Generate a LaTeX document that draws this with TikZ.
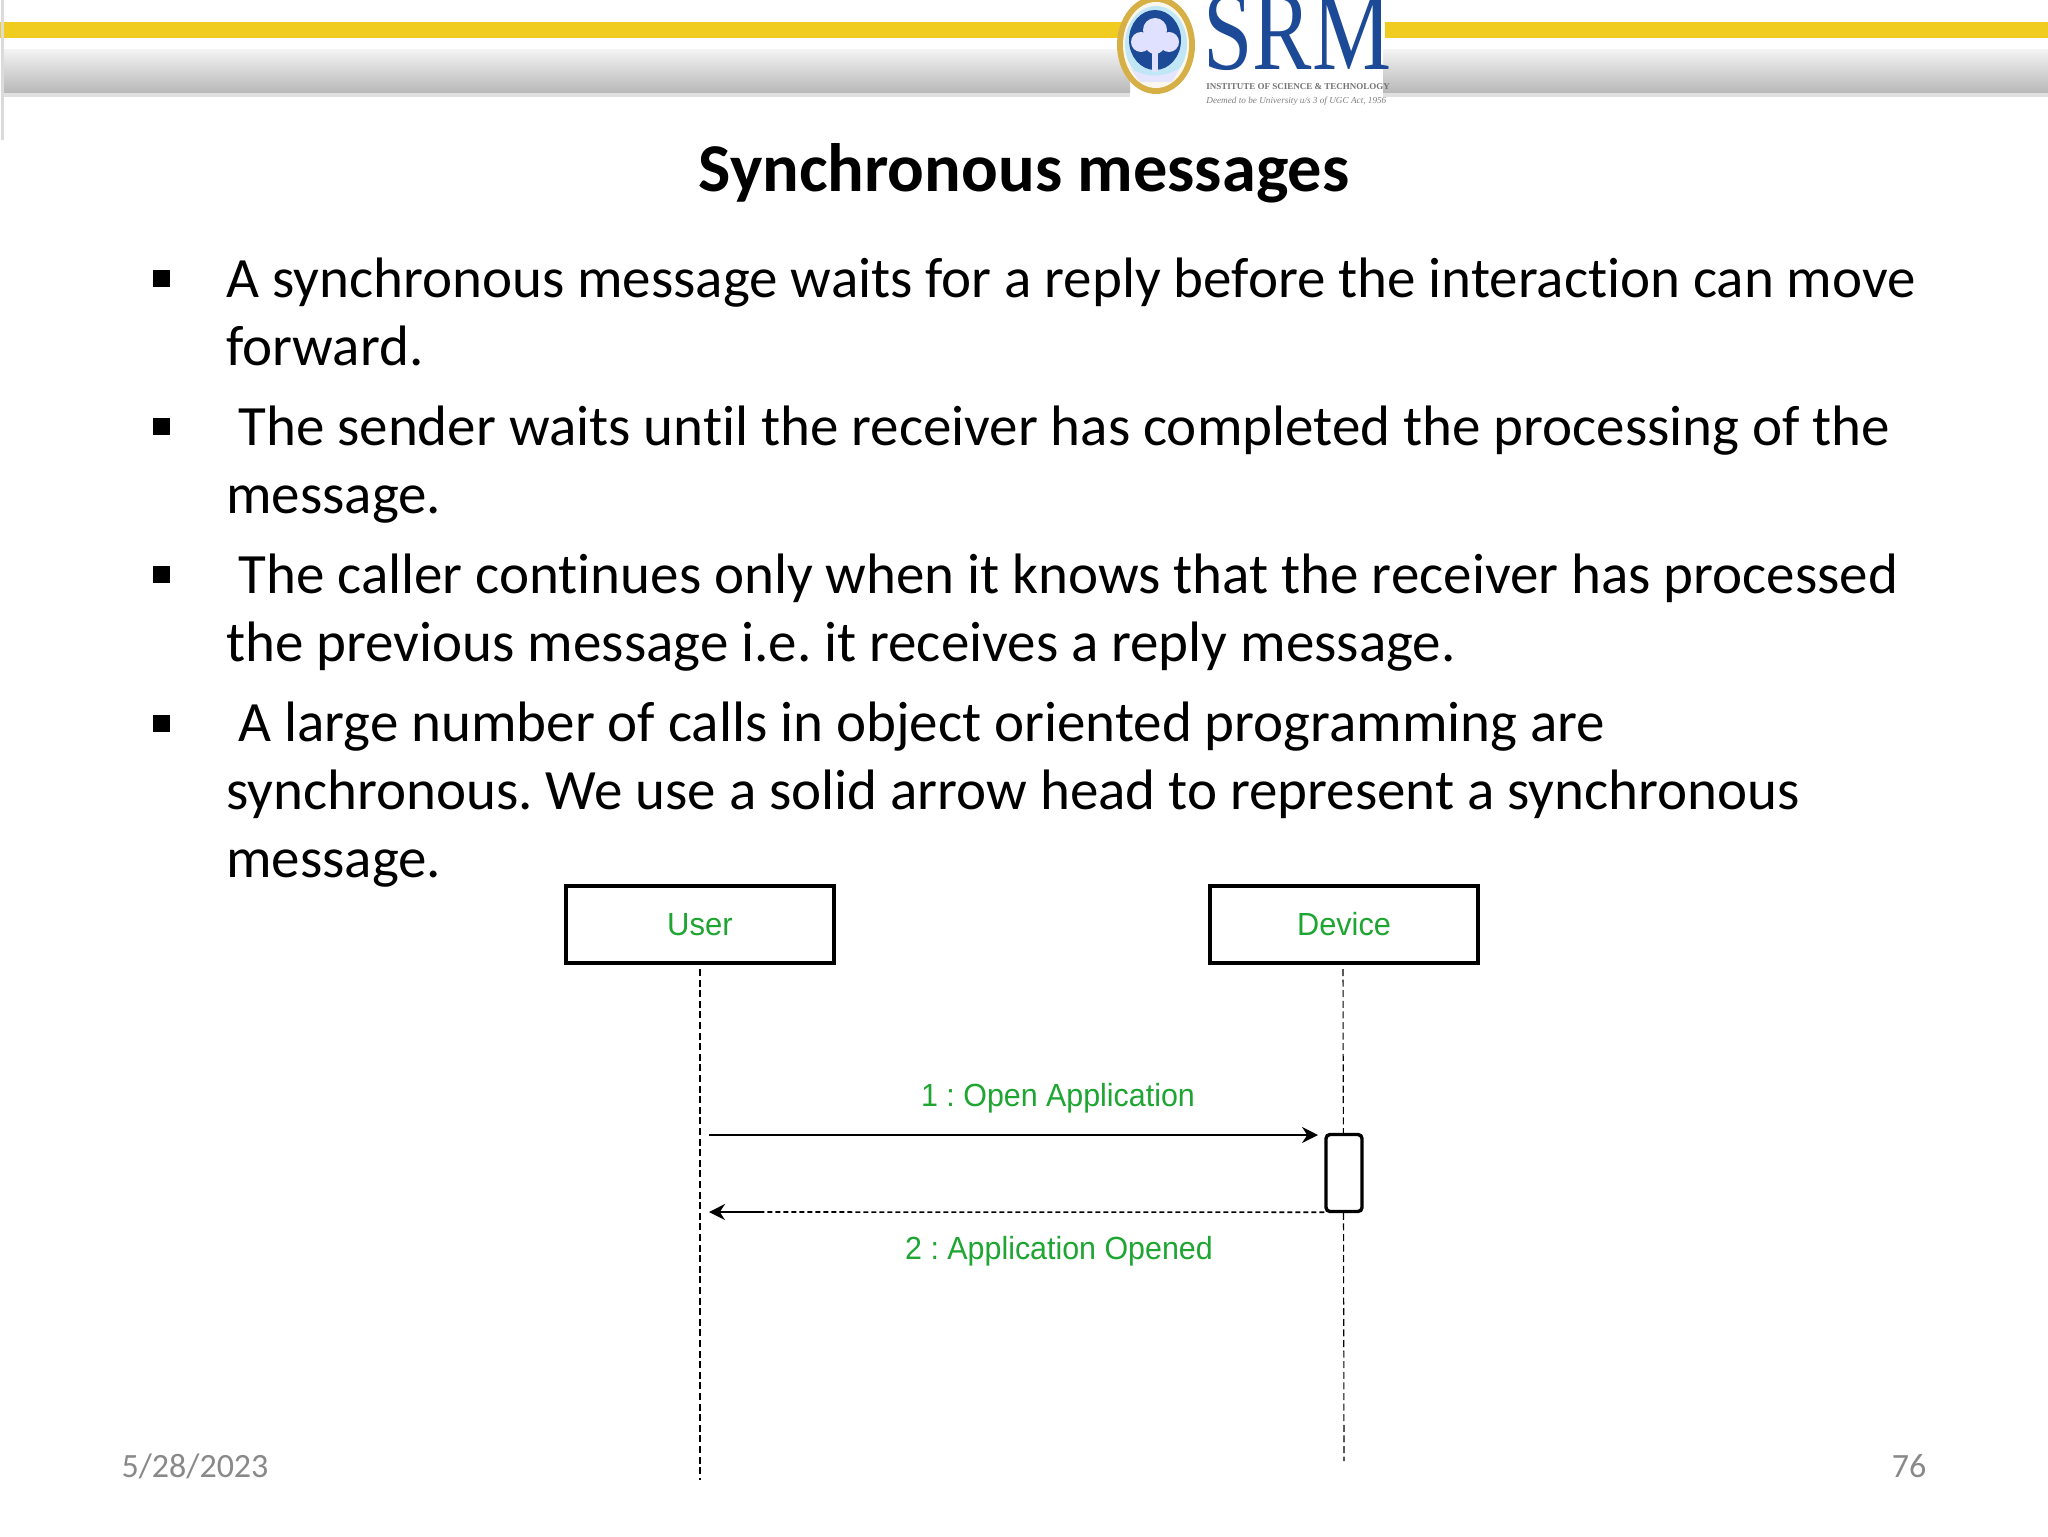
\documentclass[tikz,border=0pt]{standalone}
\usepackage{fontspec}
\usepackage{graphicx}
\setmainfont{Carlito}[Ligatures=CommonOff]
\newfontfamily\arialf{Liberation Sans}
\newfontfamily\timesf{Liberation Serif}
\usetikzlibrary{arrows.meta}
\frenchspacing
\definecolor{srmblue}{RGB}{28,74,150}
\definecolor{srmgold}{RGB}{214,176,70}
\definecolor{band}{RGB}{240,203,32}
\definecolor{umlgreen}{RGB}{30,165,50}
\definecolor{foot}{RGB}{137,137,137}
\tikzset{
  bodyline/.style={anchor=base west,inner sep=0pt,font=\fontsize{28.5}{34}\selectfont,text=black},
  bulletmark/.style={fill=black,draw=none,minimum size=8.5pt,inner sep=0pt},
  actor/.style={draw=black,line width=1.6pt,fill=white,minimum width=134pt,minimum height=38.5pt,inner sep=0pt,font=\arialf\fontsize{16}{18}\selectfont,text=umlgreen},
  msglabel/.style={inner sep=0pt,font=\arialf\fontsize{16}{18}\selectfont,text=umlgreen},
  lifeline/.style={draw=black,line width=0.55pt,dash pattern=on 3.5pt off 1.8pt},
  footer/.style={inner sep=0pt,anchor=base,font=\fontsize{17}{20}\selectfont,text=foot},
  msgarrow/.style={draw=black,line width=0.9pt,-{Stealth[length=8pt,width=8pt]}}
}
\begin{document}
\begin{tikzpicture}[x=0.5pt,y=-0.5pt]
\clip (0,0) rectangle (2048,1536);
\useasboundingbox (0,0) rectangle (2048,1536);
\fill[white] (0,0) rectangle (2048,1536);
% header band
\fill[band] (0,22) rectangle (1125,38);
\fill[band] (1385,22) rectangle (2048,38);
\shade[top color=white!90!gray,bottom color=black!28] (3,50) rectangle (1130,93);
\shade[top color=white!90!gray,bottom color=black!28] (1383,50) rectangle (2048,93);
\fill[black!12] (3,93) rectangle (1130,97);
\fill[black!12] (1383,93) rectangle (2048,97);
\fill[black!14] (1,0) rectangle (4,140);
% logo
\fill[srmgold] (1156,45) ellipse (39 and 49);
\fill[white!90!srmgold] (1156,45) ellipse (33 and 43);
\fill[black!10!cyan!25] (1156,44) ellipse (31 and 38);
\fill[srmblue] (1155,40) ellipse (26 and 30);
\fill[white!88!blue] (1155,30) circle (12);
\fill[white!88!blue] (1141,42) circle (10);
\fill[white!88!blue] (1169,42) circle (10);
\fill[white!88!blue] (1155,44) circle (10);
\fill[white!88!blue] (1152,50) rectangle (1158,72);
\fill[white!90!blue] (1130,68) .. controls (1145,78) and (1165,78) .. (1180,68) -- (1172,82) -- (1140,82) -- cycle;
% logo words
\node[inner sep=0pt,anchor=base west,text=srmblue,text depth=0pt] (srm) at (1203,70) {\scalebox{0.78}[1]{\timesf\fontsize{57}{57}\selectfont\smash{SRM}}};
\node[inner sep=0pt,anchor=base west,text=black!55] (inst) at (1206,90) {\timesf\bfseries\fontsize{4.5}{6}\selectfont INSTITUTE OF SCIENCE \& TECHNOLOGY};
\node[inner sep=0pt,anchor=base west,text=black!50] (deem) at (1206,104) {\timesf\itshape\fontsize{4.6}{6}\selectfont Deemed to be University u/s 3 of UGC Act, 1956};
% title
\node[inner sep=0pt,anchor=base,font=\bfseries\fontsize{34.2}{40}\selectfont] (title) at (1024,191) {Synchronous messages};
% bullets
\node[bulletmark] (b1) at (161,278) {};
\node[bulletmark] (b2) at (161,426) {};
\node[bulletmark] (b3) at (161,574) {};
\node[bulletmark] (b4) at (161,723) {};
% body
\node[bodyline] (l1) at (226,297) {A synchronous message waits for a reply before the interaction can move};
\node[bodyline] (l2) at (226,365) {forward.};
\node[bodyline] (l3) at (238,445) {The sender waits until the receiver has completed the processing of the};
\node[bodyline] (l4) at (226,513) {message.};
\node[bodyline] (l5) at (238,593) {The caller continues only when it knows that the receiver has processed};
\node[bodyline] (l6) at (226,661) {the previous message i.e. it receives a reply message.};
\node[bodyline] (l7) at (238,741) {A large number of calls in object oriented programming are};
\node[bodyline] (l8) at (226,809) {synchronous. We use a solid arrow head to represent a synchronous};
\node[bodyline] (l9) at (226,877) {message.};
% sequence diagram
\node[actor] (user) at (700,924.5) {\scalebox{0.97}[1]{User}};
\node[actor] (device) at (1344,924.5) {\scalebox{0.96}[1]{Device}};
\coordinate (userTop) at (700,969);
\coordinate (userEnd) at (700,1480);
\coordinate (devTop) at (1343,969);
\coordinate (devEnd) at (1344,1461);
\draw[lifeline] (userTop) -- (userEnd);
\draw[lifeline] (devTop) -- (devEnd);
\node[draw=black,line width=1.7pt,fill=white,rounded corners=2pt,minimum width=18pt,minimum height=38.5pt,inner sep=0pt] (act) at (1344,1173) {};
\coordinate (userA) at (709,1135);
\coordinate (devA) at (1318,1135);
\coordinate (userB) at (709,1212);
\coordinate (userBs) at (764,1212);
\draw[msgarrow] (userA) -- (devA);
\draw[draw=black,line width=0.8pt,dash pattern=on 2.5pt off 1.5pt] (act.south west) ++(0,-1) -- (userBs);
\draw[msgarrow] (userBs) -- (userB);
\node[msglabel] (m1) at (1058,1098) {\scalebox{0.95}[1]{1 : Open Application}};
\node[msglabel] (m2) at (1059,1251) {\scalebox{0.95}[1]{2 : Application Opened}};
% footer
\node[footer] (date) at (195,1477) {5/28/2023};
\node[footer] (page) at (1909,1477) {76};
\end{tikzpicture}
\end{document}
